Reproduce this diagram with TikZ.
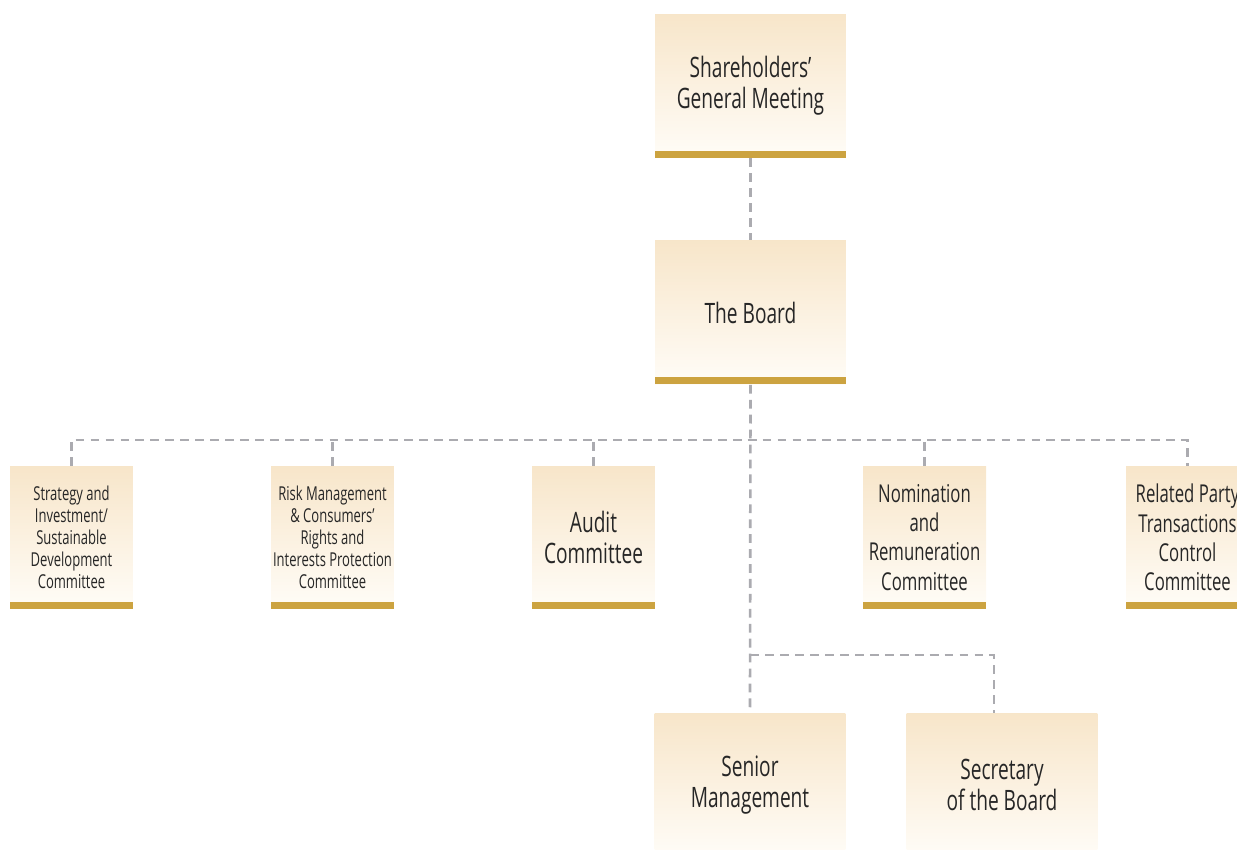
\documentclass[tikz,border=0pt]{standalone}
\usepackage{fontspec}
\setmainfont{Open Sans}[FakeStretch=0.68]
\usepackage{tikz}
\definecolor{boxtop}{rgb}{0.97,0.90,0.79}
\definecolor{boxbot}{rgb}{1.0,0.99,0.97}
\definecolor{barcol}{rgb}{0.80,0.64,0.25}
\definecolor{linecol}{rgb}{0.67,0.67,0.69}
\newcommand{\bigtxt}{\fontsize{16}{17.6}\selectfont}
\newcommand{\midtxt}{\fontsize{14}{16.6}\selectfont}
\newcommand{\smalltxt}{\fontsize{10.9}{12.5}\selectfont}
\tikzset{
  orgbox/.style={rectangle,inner sep=0pt,align=center,text=black!85,
    top color=boxtop,bottom color=boxbot,
    minimum width=3.82cm,minimum height=2.88cm,font=\bigtxt,
    path picture={\fill[barcol] ([yshift=0.14cm]path picture bounding box.south west)
      rectangle (path picture bounding box.south east);}},
  combox/.style={orgbox,minimum width=2.46cm,minimum height=2.86cm,font=\midtxt},
  link/.style={draw=linecol,line width=1.5pt,dash pattern=on 5pt off 3.5pt},
}

\begin{document}
\begin{tikzpicture}[x=0.02cm,y=-0.02cm]
\useasboundingbox (0,0) rectangle (1237,849);
\clip (0,0) rectangle (1237,849);
% top levels
\node[orgbox] (meeting) at (750.5,86) {Shareholders’\\General Meeting};
\node[orgbox] (board) at (750.5,312.5) {The Board};
% committees
\node[combox,font=\smalltxt] (strategy) at (71.5,537.5) {Strategy and\\Investment/\\Sustainable\\Development\\Committee};
\node[combox,font=\smalltxt] (risk) at (332.5,537.5) {Risk Management\\\& Consumers’\\Rights and\\Interests Protection\\Committee};
\node[combox,font=\bigtxt] (audit) at (593.5,537.5) {Audit\\Committee};
\node[combox] (nomination) at (924.5,537.5) {Nomination\\and\\Remuneration\\Committee};
\node[combox] (related) at (1187.5,537.5) {Related Party\\Transactions\\Control\\Committee};
% management
\node[orgbox] (senior) at (750,785) {Senior\\Management};
\node[orgbox] (secretary) at (1002,785) {Secretary\\of the Board};
% connectors
\coordinate (bus) at (750.5,440);
\coordinate (split) at (750.5,655);
\draw[link] (meeting.south) -- (board.north);
\draw[link] (board.south) -- (senior.north);
\draw[link] (strategy.north) |- (bus) -| (related.north);
\draw[link] (risk.north) -- (risk.north |- bus);
\draw[link] (audit.north) -- (audit.north |- bus);
\draw[link] (nomination.north) -- (nomination.north |- bus);
\draw[link] (split) -| ([xshift=-0.16cm]secretary.north);
\end{tikzpicture}
\end{document}
